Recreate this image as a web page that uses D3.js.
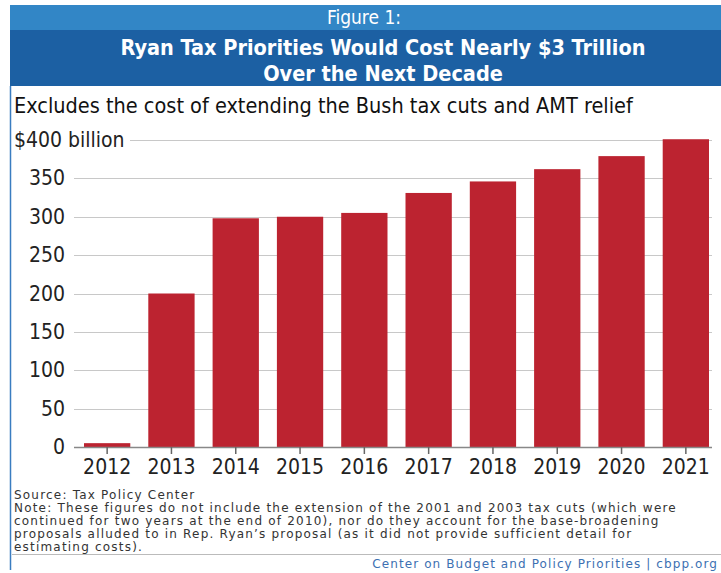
<!DOCTYPE html>
<html><head><meta charset="utf-8">
<script src="https://cdn.jsdelivr.net/npm/d3@7"></script>
<style>body{margin:0;background:#fff}svg{display:block}</style>
</head><body>
<script>
const years = ["2012","2013","2014","2015","2016","2017","2018","2019","2020","2021"];
const costs = [5, 200, 298, 300, 305, 331, 346, 362, 379, 401];
const yTicks = [0, 50, 100, 150, 200, 250, 300, 350, 400];
const noteLines = [
  "Source: Tax Policy Center",
  "Note: These figures do not include the extension of the 2001 and 2003 tax cuts (which were",
  "continued for two years at the end of 2010), nor do they account for the base-broadening",
  "proposals alluded to in Rep. Ryan\u2019s proposal (as it did not provide sufficient detail for",
  "estimating costs)."
];

const W = 721, H = 573;
const svg = d3.select("body").append("svg").attr("width", W).attr("height", H);
const cond = "'Liberation Sans Narrow','DejaVu Sans Condensed',sans-serif";
const wide = "'DejaVu Sans',Verdana,sans-serif";

// header
svg.append("rect").attr("x",10).attr("y",5).attr("width",W-10).attr("height",25).attr("fill","#3286c6");
svg.append("rect").attr("x",10).attr("y",30).attr("width",W-10).attr("height",56).attr("fill","#1c60a3");
svg.append("line").attr("x1",10.5).attr("x2",10.5).attr("y1",86).attr("y2",570).attr("stroke","#3a7cc0").attr("stroke-width",1.5);

svg.append("text").attr("x",364).attr("y",24).attr("text-anchor","middle")
  .attr("fill","#fff").attr("font-family",cond).attr("font-size",19).text("Figure 1:");
svg.append("text").attr("x",383).attr("y",55).attr("text-anchor","middle")
  .attr("fill","#fff").attr("font-family",cond).attr("font-weight","bold").attr("font-size",21.5)
  .text("Ryan Tax Priorities Would Cost Nearly $3 Trillion");
svg.append("text").attr("x",383).attr("y",81).attr("text-anchor","middle")
  .attr("fill","#fff").attr("font-family",cond).attr("font-weight","bold").attr("font-size",21.5)
  .text("Over the Next Decade");
svg.append("text").attr("x",14).attr("y",113)
  .attr("fill","#111").attr("font-family",cond).attr("font-size",21.5)
  .text("Excludes the cost of extending the Bush tax cuts and AMT relief");

// chart
const x = d3.scaleBand().domain(years).range([75, 718]).paddingInner(0.28).paddingOuter(0.14);
const y = d3.scaleLinear().domain([0, 400]).range([447, 140]);

const grid = svg.append("g");
grid.selectAll("line").data(yTicks.filter(d => d > 0)).join("line")
  .attr("x1", d => d === 400 ? 130 : 74).attr("x2", 712)
  .attr("y1", d => Math.round(y(d)) + 0.5).attr("y2", d => Math.round(y(d)) + 0.5)
  .attr("stroke", "#c8c8c8").attr("stroke-width", 1.2);

svg.append("g").selectAll("rect").data(costs).join("rect")
  .attr("x", (d, i) => x(years[i])).attr("width", x.bandwidth())
  .attr("y", d => y(d)).attr("height", d => y(0) - y(d))
  .attr("fill", "#bc2330");

// axis line and ticks
const ax = svg.append("g").attr("transform", `translate(0,${y(0)})`)
  .call(d3.axisBottom(x).tickSize(7).tickPadding(5));
ax.select(".domain").attr("d", "M74,0.5H712").attr("stroke", "#888").attr("stroke-width", 1.5);
ax.selectAll(".tick line").attr("stroke", "#666").attr("stroke-width", 1.5);
ax.selectAll(".tick text").attr("font-family", cond).attr("font-size", 21).attr("fill", "#222");

const yl = svg.append("g");
yl.selectAll("text").data(yTicks).join("text")
  .attr("x", d => d === 400 ? 14 : 65).attr("y", d => y(d) + 7)
  .attr("text-anchor", d => d === 400 ? "start" : "end")
  .attr("font-family", cond).attr("font-size", 21).attr("fill", "#222")
  .text(d => d === 400 ? "$400 billion" : d);

// notes
svg.append("g").selectAll("text").data(noteLines).join("text")
  .attr("x", 14).attr("y", (d, i) => 499 + i * 13)
  .attr("font-family", wide).attr("font-size", 12).attr("letter-spacing", 1.2).attr("fill", "#333")
  .text(d => d);

svg.append("line").attr("x1", 12).attr("x2", W).attr("y1", 554.5).attr("y2", 554.5).attr("stroke", "#bbb");
svg.append("text").attr("x", 718).attr("y", 568).attr("text-anchor", "end")
  .attr("font-family", wide).attr("font-size", 12).attr("letter-spacing", 1.1).attr("fill", "#3c70b2")
  .text("Center on Budget and Policy Priorities | cbpp.org");
</script>
</body></html>
